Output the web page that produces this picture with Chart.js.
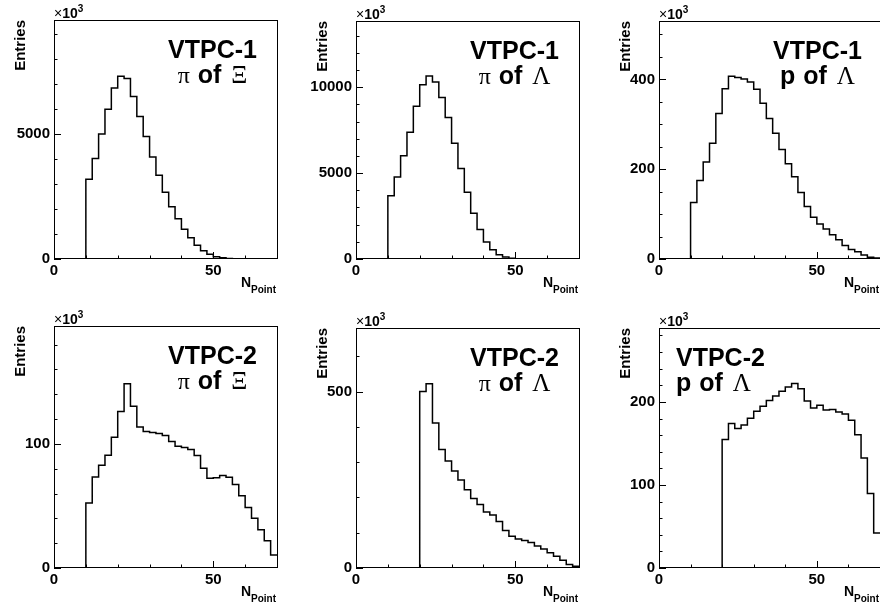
<!DOCTYPE html>
<html>
<head>
<meta charset="utf-8">
<script src="https://cdn.jsdelivr.net/npm/chart.js@4.4.1/dist/chart.umd.min.js"></script>
<style>
  html, body { margin: 0; padding: 0; background: #fff; width: 880px; height: 606px; overflow: hidden; position: relative; }
  canvas { position: absolute; }
</style>
</head>
<body>
<script>
// histograms of N_Point, bin width 2, x axis 0..70
const binWidth = 2;
const xMin = 0, xMax = 70;
const xTicks = [0, 10, 20, 30, 40, 50, 60, 70];
const xLabels = [0, 50];

// VTPC-1 (first bin starts at 10)
const vtpc1PiXi = [3200, 4030, 5010, 6000, 6850, 7330, 7240, 6510, 5710, 4910, 4090, 3360, 2680, 2090, 1610,
  1190, 850, 550, 330, 190, 95, 55, 25, 12, 0, 0, 0, 0, 0, 0];
const vtpc1PiLambda = [3680, 4770, 6010, 7380, 8900, 10150, 10660, 10310, 9400, 8240, 6740, 5270, 3880, 2670, 1720,
  990, 540, 250, 115, 40, 0, 0, 0, 0, 0, 0, 0, 0, 0, 0];
const vtpc1PLambda = [126, 175, 216, 258, 324, 379, 407, 404, 401, 394, 378, 347, 313, 280, 244,
  212, 183, 148, 117, 93, 78, 67, 54, 43, 30, 21, 16, 9, 4, 2];

// VTPC-2 (pi of Xi starts at 10, Lambda daughters at 20)
const vtpc2PiXi = [52.4, 73.4, 82.8, 90.9, 105.4, 126.1, 148.4, 130.4, 113.7, 110, 109.1, 108.3, 106.7, 101.9, 98.1,
  97, 95.4, 90.6, 80.4, 72.3, 72.8, 74.5, 73.1, 67.2, 58.3, 48.7, 40.1, 30.9, 22, 10.5];
const vtpc2PiLambda = [500, 522, 411, 336, 303, 275, 249, 222, 197, 180, 159, 150, 132, 106, 90,
  82, 78, 72, 62, 54, 43, 33, 22, 10, 5];
const vtpc2PLambda = [154.6, 173.9, 167.9, 172.3, 180.3, 188.8, 194.8, 201.6, 207.2, 212.9, 218.1, 222.1, 215.7, 201.2, 192.8,
  196, 190.4, 190.8, 188, 185.5, 177.9, 160.6, 132.5, 89.6, 42.2];

const SANS = '"Liberation Sans", Arial, Helvetica, sans-serif';
const SERIF = '"Liberation Serif", "Times New Roman", serif';

const panels = [
  { chamber: 'VTPC-1', particle: 'π', parent: 'Ξ', start: 10, values: vtpc1PiXi,
    yMax: 9580, yLabels: [0, 5000], yMinor: 1000, frame: { l: 54, t: 20, r: 277, b: 259 }, align: 'center' },
  { chamber: 'VTPC-1', particle: 'π', parent: 'Λ', start: 10, values: vtpc1PiLambda,
    yMax: 13860, yLabels: [0, 5000, 10000], yMinor: 1000, frame: { l: 356, t: 21, r: 579, b: 259 }, align: 'center' },
  { chamber: 'VTPC-1', particle: 'p', parent: 'Λ', start: 10, values: vtpc1PLambda,
    yMax: 530, yLabels: [0, 200, 400], yMinor: 50, frame: { l: 659, t: 21, r: 880, b: 259 }, align: 'center' },
  { chamber: 'VTPC-2', particle: 'π', parent: 'Ξ', start: 10, values: vtpc2PiXi,
    yMax: 195, yLabels: [0, 100], yMinor: 20, frame: { l: 54, t: 326, r: 277, b: 568 }, align: 'center' },
  { chamber: 'VTPC-2', particle: 'π', parent: 'Λ', start: 20, values: vtpc2PiLambda,
    yMax: 680, yLabels: [0, 500], yMinor: 100, frame: { l: 356, t: 328, r: 579, b: 568 }, align: 'center' },
  { chamber: 'VTPC-2', particle: 'p', parent: 'Λ', start: 20, values: vtpc2PLambda,
    yMax: 289, yLabels: [0, 100, 200], yMinor: 20, frame: { l: 659, t: 328, r: 880, b: 568 }, align: 'left' }
];

const histPoints = (start, values) => {
  const pts = [{ x: xMin, y: 0 }];
  values.forEach((v, i) => pts.push({ x: start + i * binWidth, y: v }));
  pts.push({ x: start + values.length * binWidth, y: values[values.length - 1] });
  return pts;
};

// draw a run of [text, font, dy] pieces; a bare number is an extra gap in px
const drawParts = (ctx, parts, x, y, align) => {
  const widths = parts.map(p => {
    if (typeof p === 'number') return p;
    ctx.font = p[1];
    return ctx.measureText(p[0]).width;
  });
  const total = widths.reduce((a, b) => a + b, 0);
  let cx = align === 'center' ? x - total / 2 : x;
  parts.forEach((p, i) => {
    if (typeof p !== 'number') {
      ctx.font = p[1];
      ctx.fillText(p[0], cx, y + (p[2] || 0));
    }
    cx += widths[i];
  });
};

// ROOT-like frame: box, inward ticks, exponent, axis title with subscript, panel label
const rootFrame = {
  id: 'rootFrame',
  afterDatasetsDraw(chart, args, o) {
    const { ctx, chartArea: a, scales: { x, y } } = chart;
    ctx.save();
    ctx.strokeStyle = '#000';
    ctx.lineWidth = 1;
    ctx.strokeRect(Math.round(a.left) + 0.5, Math.round(a.top) + 0.5,
      Math.round(a.right - a.left), Math.round(a.bottom - a.top) - 1);
    ctx.beginPath();
    x.ticks.forEach(t => {
      const px = Math.round(x.getPixelForValue(t.value)) + 0.5;
      const len = xLabels.includes(t.value) ? 7 : 3.5;
      ctx.moveTo(px, a.bottom);
      ctx.lineTo(px, a.bottom - len);
    });
    y.ticks.forEach(t => {
      const py = Math.round(y.getPixelForValue(t.value)) + 0.5;
      const len = o.yLabels.includes(t.value) ? 7 : 3.5;
      ctx.moveTo(a.left, py);
      ctx.lineTo(a.left + len, py);
    });
    ctx.stroke();

    ctx.fillStyle = '#000';
    ctx.textBaseline = 'alphabetic';
    ctx.textAlign = 'left';
    drawParts(ctx, [['×', `14px ${SANS}`], ['10', `bold 14px ${SANS}`], ['3', `bold 10px ${SANS}`, -6]],
      a.left, a.top - 2, 'left');

    ctx.textAlign = 'right';
    ctx.font = `bold 10px ${SANS}`;
    ctx.fillText('Point', a.right - 1, a.bottom + 34);
    const pw = ctx.measureText('Point').width;
    ctx.font = `bold 14px ${SANS}`;
    ctx.fillText('N', a.right - 1 - pw, a.bottom + 27.5);

    ctx.textAlign = 'left';
    const lx = o.align === 'center' ? a.left + 158.5 : a.left + 17;
    drawParts(ctx, [[o.chamber, `bold 25px ${SANS}`]], lx, a.top + 37.5, o.align);
    const pFont = o.particle === 'p' ? `bold 25px ${SANS}` : `24px ${SERIF}`;
    drawParts(ctx, [[o.particle, pFont], 1, [' of ', `bold 25px ${SANS}`], 3, [o.parent, `25px ${SERIF}`]],
      lx, a.top + 62.5, o.align);
    ctx.restore();
  }
};

panels.forEach(p => {
  const f = p.frame;
  const left = f.l - 60, top = f.t - 22;
  const width = f.r + 8 - left, height = f.b + 40 - top;
  const canvas = document.createElement('canvas');
  canvas.width = width;
  canvas.height = height;
  canvas.style.left = left + 'px';
  canvas.style.top = top + 'px';
  document.body.appendChild(canvas);

  const yTicks = [];
  for (let v = 0; v <= p.yMax; v += p.yMinor) yTicks.push(v);

  new Chart(canvas.getContext('2d'), {
    type: 'line',
    data: {
      datasets: [{
        data: histPoints(p.start, p.values),
        stepped: 'before',
        borderColor: '#000',
        borderWidth: 1.5,
        pointRadius: 0,
        fill: false
      }]
    },
    options: {
      responsive: false,
      animation: false,
      events: [],
      layout: { padding: { left: 0, top: 22, right: 8, bottom: 0 } },
      plugins: {
        legend: { display: false },
        tooltip: { enabled: false },
        rootFrame: { yLabels: p.yLabels, chamber: p.chamber, particle: p.particle, parent: p.parent, align: p.align }
      },
      scales: {
        x: {
          type: 'linear', min: xMin, max: xMax,
          grid: { display: false, drawTicks: false }, border: { display: false },
          afterBuildTicks: s => { s.ticks = xTicks.map(v => ({ value: v })); },
          afterFit: s => { s.height = 40; },
          ticks: {
            autoSkip: false, maxRotation: 0, padding: 3, color: '#000',
            font: { family: SANS, size: 15, weight: 'bold' },
            callback: v => xLabels.includes(v) ? String(v) : ''
          }
        },
        y: {
          type: 'linear', min: 0, max: p.yMax,
          grid: { display: false, drawTicks: false }, border: { display: false },
          afterBuildTicks: s => { s.ticks = yTicks.map(v => ({ value: v })); },
          afterFit: s => { s.width = 60; },
          title: {
            display: true, text: 'Entries', align: 'end', color: '#000',
            font: { family: SANS, size: 15, weight: 'bold' },
            padding: { top: 18, bottom: 0 }
          },
          ticks: {
            autoSkip: false, padding: 4, color: '#000',
            font: { family: SANS, size: 15, weight: 'bold' },
            callback: v => p.yLabels.includes(v) ? String(v) : ''
          }
        }
      }
    },
    plugins: [rootFrame]
  });
});
</script>
</body>
</html>
